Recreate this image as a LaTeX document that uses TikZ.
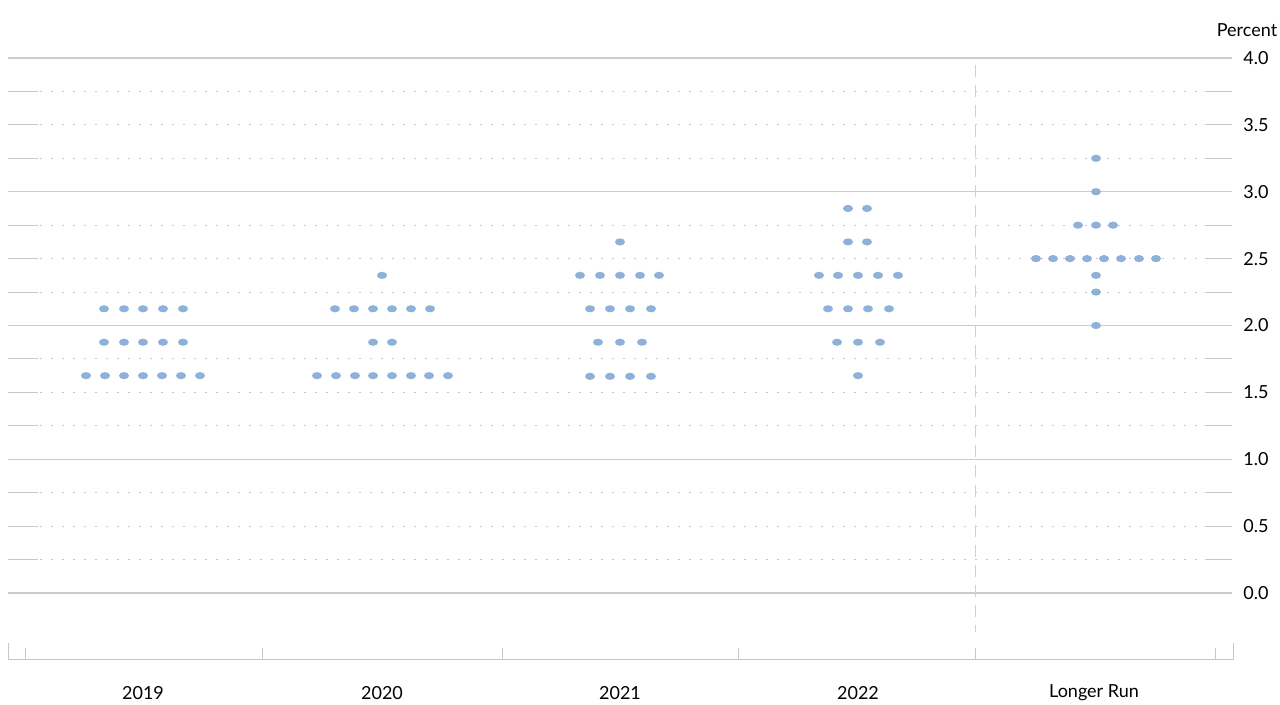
\documentclass[tikz,border=0pt]{standalone}
\usepackage{fontspec}
\setmainfont{Lato}
\begin{document}
\begin{tikzpicture}[x=0.5pt,y=-0.5pt,
  solidgrid/.style={draw=black!20,line width=0.6pt},
  dotgrid/.style={draw=black!22,line width=0.5pt,dash pattern=on 1pt off 4.5pt},
  tickl/.style={draw=black!22,line width=0.5pt},
  pt/.style={fill=dotblue,draw=none},
  lab/.style={font=\fontsize{9}{10}\selectfont}]
\definecolor{dotblue}{HTML}{8FB1D9}
\useasboundingbox (0,0) rectangle (1280,705);
% grid
\foreach \v in {0,1,2,3,4}{\draw[solidgrid] (8,{593-\v*133.75}) -- (1232,{593-\v*133.75});}
\foreach \v in {0.25,0.5,0.75,1.25,1.5,1.75,2.25,2.5,2.75,3.25,3.5,3.75}{
  \draw[dotgrid] (40,{593-\v*133.75}) -- (1205,{593-\v*133.75});
  \draw[tickl] (8,{593-\v*133.75}) -- (38,{593-\v*133.75});
  \draw[tickl] (1205,{593-\v*133.75}) -- (1232,{593-\v*133.75});}
\foreach \v/\t in {0/0.0,0.5/0.5,1/1.0,1.5/1.5,2/2.0,2.5/2.5,3/3.0,3.5/3.5,4/4.0}{
  \node[lab] (r\t) at (1256,{593-\v*133.75}) {\t};}
\node[lab] (pc) at (1247,30) {Percent};
% bottom axis
\draw[tickl] (8,643) -- (8,659) -- (1233,659) -- (1233,643);
\foreach \x in {25,262,502,738,975,1215}{\draw[tickl] (\x,648) -- (\x,659);}
\draw[draw=black!18,dash pattern=on 6pt off 4pt] (975,65) -- (975,632);
% labels
\node[lab] (y1) at (143,693) {2019};
\node[lab] (y2) at (382,693) {2020};
\node[lab] (y3) at (620,693) {2021};
\node[lab] (y4) at (858,693) {2022};
\node[lab] (y5) at (1094,693) {Longer Run};
% dots
\newcommand{\dotrow}[2]{\foreach \x in {#2}{\fill[pt] (\x,{593-#1*133.75}) ellipse (5 and 3.6);}}
\dotrow{2.125}{104,124,143,163,183}
\dotrow{1.875}{104,124,143,163,183}
\dotrow{1.625}{86,105,124,143,162,181,200}
\dotrow{2.375}{382}
\dotrow{2.125}{335,354,373,392,411,430}
\dotrow{1.875}{373,392}
\dotrow{1.625}{317,336,355,373,392,411,429,448}
\dotrow{2.625}{620}
\dotrow{2.375}{580,600,620,640,659}
\dotrow{2.125}{590,610,630,651}
\dotrow{1.875}{598,620,642}
\dotrow{1.62}{590,610,630,651}
\dotrow{2.875}{848,867}
\dotrow{2.625}{848,867}
\dotrow{2.375}{819,838,858,878,898}
\dotrow{2.125}{828,848,868,889}
\dotrow{1.875}{837,858,880}
\dotrow{1.625}{858}
\dotrow{3.25}{1096}
\dotrow{3.0}{1096}
\dotrow{2.75}{1078,1096,1113}
\dotrow{2.5}{1036,1053,1070,1087,1104,1121,1139,1156}
\dotrow{2.375}{1096}
\dotrow{2.25}{1096}
\dotrow{2.0}{1096}
\end{tikzpicture}
\end{document}
